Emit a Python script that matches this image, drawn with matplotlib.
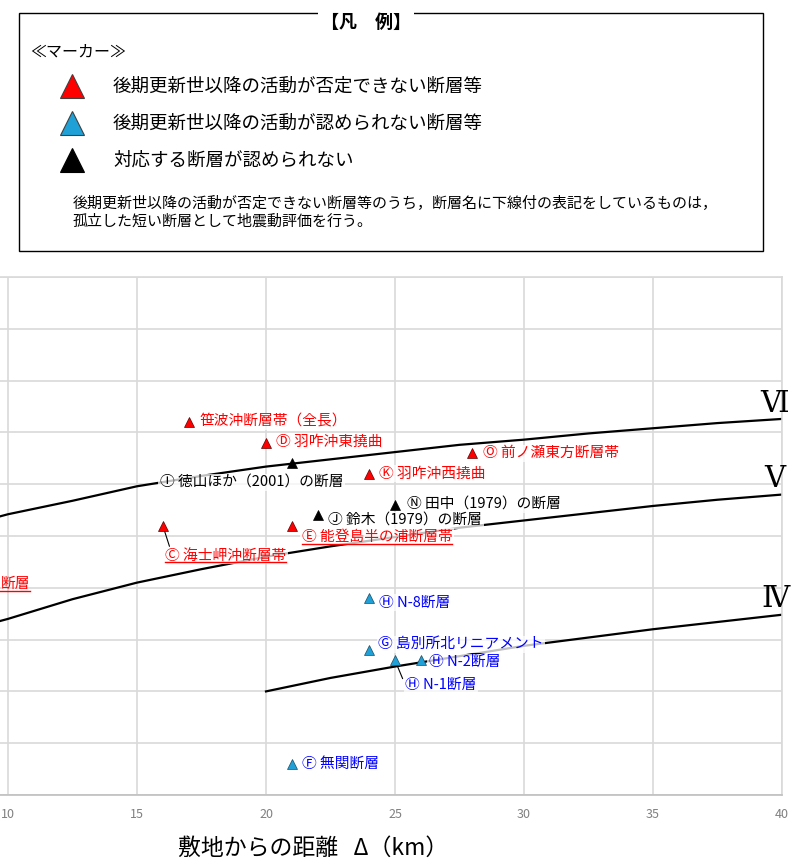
import matplotlib
matplotlib.use('Agg')
import matplotlib.pyplot as plt
from matplotlib.lines import Line2D
from matplotlib.patches import Rectangle

plt.rcParams['font.family'] = ['Noto Sans CJK JP', 'DejaVu Sans']

# 震度境界線 (距離 km, マグニチュード)
vi_dist = [9.7, 10, 12.5, 15, 17.5, 20, 22.5, 25, 27.5, 30, 32.5, 35, 37.5, 40]
vi_mag = [6.69, 6.71, 6.84, 6.98, 7.08, 7.17, 7.24, 7.31, 7.38, 7.43, 7.49, 7.54, 7.59, 7.63]
v_dist = [9.7, 10, 12.5, 15, 17.5, 20, 22.5, 25, 27.5, 30, 32.5, 35, 37.5, 40]
v_mag = [5.68, 5.70, 5.89, 6.05, 6.18, 6.30, 6.40, 6.49, 6.58, 6.65, 6.72, 6.79, 6.85, 6.90]
iv_dist = [20, 22.5, 25, 27.5, 30, 32.5, 35, 37.5, 40]
iv_mag = [5.00, 5.13, 5.24, 5.34, 5.44, 5.52, 5.60, 5.67, 5.74]

# 断層
fault_names = ['笹波沖断層帯（全長）', 'Ⓓ 羽咋沖東撓曲', 'Ⓘ 徳山ほか（2001）の断層',
               'Ⓚ 羽咋沖西撓曲', 'Ⓞ 前ノ瀬東方断層帯', 'Ⓝ 田中（1979）の断層',
               'Ⓙ 鈴木（1979）の断層', 'Ⓔ 能登島半の浦断層帯', 'Ⓒ 海士岬沖断層帯',
               'Ⓗ N-8断層', 'Ⓖ 島別所北リニアメント', 'Ⓗ N-2断層', 'Ⓗ N-1断層',
               'Ⓕ 無関断層']
fault_dist = [17, 20, 21, 24, 28, 25, 22, 21, 16, 24, 24, 26, 25, 21]
fault_mag = [7.6, 7.4, 7.2, 7.1, 7.3, 6.8, 6.7, 6.6, 6.6, 5.9, 5.4, 5.3, 5.3, 4.3]
fault_kind = ['red', 'red', 'black', 'red', 'red', 'black', 'black', 'red', 'red',
              'blue', 'blue', 'blue', 'blue', 'blue']
fault_underline = [False, False, False, False, False, False, False, True, True,
                   False, False, False, False, False]

xticks = [10, 15, 20, 25, 30, 35, 40]

legend_labels = ['後期更新世以降の活動が否定できない断層等',
                 '後期更新世以降の活動が認められない断層等',
                 '対応する断層が認められない']
legend_kind = ['red', 'blue', 'black']

marker_fill = {'red': '#ff0000', 'blue': '#1fa0d6', 'black': '#000000'}
marker_edge = {'red': '#600000', 'blue': '#1a4d66', 'black': '#000000'}
text_color = {'red': '#ff0000', 'blue': '#0000ff', 'black': '#000000'}

# ラベル位置 (マーカーからのずれ, pt)
label_offsets = [(7.7, 0.5), (7.2, 0.5), (-95, -13.5), (7.2, 0), (7.4, 0), (8.6, 0),
                 (7.7, -3.6), (7.0, -7.9), (1.7, -21.4), (7.2, -3.2), (6.5, 4.1),
                 (5.8, -1.4), (7.2, -18), (7.2, 0)]

W, H = 804, 865
fig = plt.figure(figsize=(W / 100, H / 100), dpi=100)

ax = fig.add_axes([0, 1 - 795 / H, 782 / W, (795 - 277) / H])
ax.set_xlim(9.69, 40)
ax.set_ylim(4.0, 9.0)
ax.set_xticks(xticks)
ax.set_yticks([4.0 + 0.5 * i for i in range(11)])
ax.set_yticklabels([])
ax.tick_params(length=0, labelsize=9, labelcolor='#808080', pad=9)
ax.grid(True, color='#d9d9d9', lw=1.2)
ax.set_axisbelow(True)
for side in ['top', 'right']:
    ax.spines[side].set_color('#d9d9d9')
    ax.spines[side].set_linewidth(1.2)
ax.spines['left'].set_visible(False)
ax.spines['bottom'].set_color('#bfbfbf')
ax.spines['bottom'].set_linewidth(1.2)

for d, m, name in [(vi_dist, vi_mag, 'Ⅵ'), (v_dist, v_mag, 'Ⅴ'), (iv_dist, iv_mag, 'Ⅳ')]:
    ax.plot(d, m, color='black', lw=1.6, zorder=2, solid_joinstyle='round')
    ax.annotate(name, xy=(d[-1], m[-1]), xytext=(-5, 11), textcoords='offset points',
                ha='center', va='center', fontsize=21,
                family=['DejaVu Serif', 'Noto Sans CJK JP'], zorder=5)

label_texts = []
for name, d, m, kind, off in zip(fault_names, fault_dist, fault_mag, fault_kind, label_offsets):
    ax.plot(d, m, marker='^', ms=7.5, color=marker_fill[kind],
            mec=marker_edge[kind], mew=0.5, ls='none', zorder=4)
    t = ax.annotate(name, xy=(d, m), xytext=off, textcoords='offset points',
                    ha='left', va='center', fontsize=10.6, color=text_color[kind],
                    bbox=dict(boxstyle='square,pad=0.1', fc='white', ec='none', alpha=0.75),
                    zorder=3)
    label_texts.append(t)

# 引出線
for i, tip in [(8, (4.8, -14.9)), (12, (5.5, -13.2))]:
    ax.annotate('', xy=(fault_dist[i], fault_mag[i]), xytext=tip, textcoords='offset points',
                arrowprops=dict(arrowstyle='-', color='black', lw=0.8, shrinkA=0, shrinkB=1),
                zorder=3)

# 左端で切れている断層名
edge_label = ax.text(10.85, 6.04, '断層', ha='right', va='center', fontsize=10.6,
                     color='#ff0000', zorder=3)

fig.text(313 / W, 1 - 848 / H, '敷地からの距離   Δ（km）', ha='center', va='center', fontsize=16.5)

# 凡例
lax = fig.add_axes([0, 0, 1, 1])
lax.set_xlim(0, W)
lax.set_ylim(H, 0)
lax.axis('off')
lax.add_patch(Rectangle((19, 13), 744, 238, fill=False, ec='black', lw=1))
lax.text(366, 22, '【凡　例】', ha='center', va='center', fontsize=13, fontweight='bold',
         bbox=dict(boxstyle='square,pad=0.15', fc='white', ec='none'))
lax.text(30, 52, '≪マーカー≫', ha='left', va='center', fontsize=11.5)
for k, (lab, kind) in enumerate(zip(legend_labels, legend_kind)):
    y = 86 + 37 * k
    lax.plot(72, y, marker='^', ms=17, color=marker_fill[kind],
             mec='#404040' if kind != 'black' else 'black', mew=0.8, ls='none')
    lax.text(113, y + 1, lab, ha='left', va='center', fontsize=13.3)
lax.text(73, 203, '後期更新世以降の活動が否定できない断層等のうち，断層名に下線付の表記をしているものは，',
         ha='left', va='center', fontsize=10.8)
lax.text(73, 222, '孤立した短い断層として地震動評価を行う。', ha='left', va='center', fontsize=10.8)

# 下線
fig.canvas.draw()
renderer = fig.canvas.get_renderer()
inv = fig.transFigure.inverted()
underlined = [t for t, u in zip(label_texts, fault_underline) if u] + [edge_label]
for t in underlined:
    bb = t.get_window_extent(renderer)
    (x0, y0), (x1, _) = inv.transform([(bb.x0, bb.y0), (bb.x1, bb.y0)])
    fig.add_artist(Line2D([x0, x1], [y0, y0], color='#ff0000', lw=1, transform=fig.transFigure))

fig.savefig('out.png', dpi=100)
